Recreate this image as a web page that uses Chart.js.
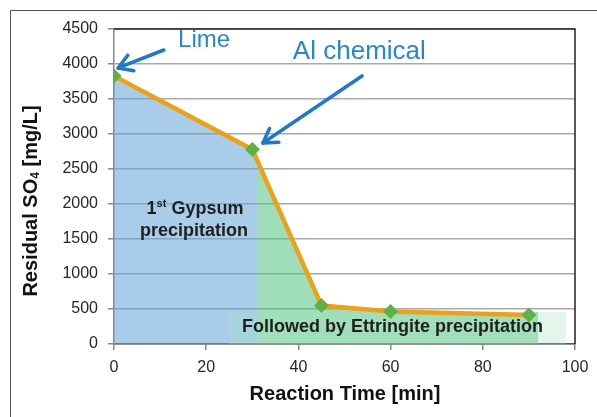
<!DOCTYPE html>
<html>
<head>
<meta charset="utf-8">
<script src="https://cdn.jsdelivr.net/npm/chart.js@4.4.0/dist/chart.umd.min.js"></script>
<style>
  html, body { margin: 0; padding: 0; background: #fff; }
</style>
</head>
<body>
<canvas id="so4Chart" width="597" height="417"></canvas>
<script>
// Datos
const tiempos = [0, 30, 45, 60, 90];            // Reaction Time [min]
const sulfato = [3830, 2780, 550, 465, 415];    // Residual SO4 [mg/L]
const xTicks = [0, 20, 40, 60, 80, 100];
const yTicks = [0, 500, 1000, 1500, 2000, 2500, 3000, 3500, 4000, 4500];

// Límites de las zonas sombreadas (min)
const finYeso = 31;
const inicioCaja = 25;
const finEttringita = 92;
const finCaja = 98;
const altoCaja = 460;   // mg/L

const puntos = tiempos.map((t, i) => ({ x: t, y: sulfato[i] }));
const FUENTE = "'Liberation Sans', Arial, sans-serif";

function clipX(chart, a, b) {
  const { ctx, chartArea, scales: { x } } = chart;
  const x0 = x.getPixelForValue(a), x1 = x.getPixelForValue(b);
  ctx.save();
  ctx.beginPath();
  ctx.rect(x0, chartArea.top, x1 - x0, chartArea.bottom - chartArea.top);
  ctx.clip();
}

function flecha(ctx, x1, y1, x2, y2) {
  const ang = Math.atan2(y2 - y1, x2 - x1);
  const largo = 16;
  ctx.beginPath();
  ctx.moveTo(x1, y1);
  ctx.lineTo(x2, y2);
  ctx.stroke();
  ctx.beginPath();
  ctx.moveTo(x2 - largo * Math.cos(ang - 0.55), y2 - largo * Math.sin(ang - 0.55));
  ctx.lineTo(x2, y2);
  ctx.lineTo(x2 - largo * Math.cos(ang + 0.55), y2 - largo * Math.sin(ang + 0.55));
  ctx.stroke();
}

// Recorta los rellenos azul / verde y dibuja la caja de ettringita
const zonas = {
  id: 'zonas',
  beforeDraw(chart) {
    const ctx = chart.ctx;
    ctx.save();
    ctx.strokeStyle = '#555';
    ctx.lineWidth = 1;
    ctx.beginPath();
    ctx.moveTo(10.5, 417);
    ctx.lineTo(10.5, 10.5);
    ctx.lineTo(597, 10.5);
    ctx.stroke();
    ctx.restore();
  },
  beforeDatasetsDraw(chart) {
    clipX(chart, finYeso, 100);
  },
  afterDatasetDraw(chart, args) {
    const { ctx, scales: { x, y } } = chart;
    if (args.index === 2) {
      ctx.restore();
      clipX(chart, 0, finYeso);
    } else if (args.index === 1) {
      ctx.restore();
      ctx.save();
      const yTop = y.getPixelForValue(altoCaja), yBot = y.getPixelForValue(0);
      const xUlt = x.getPixelForValue(tiempos[tiempos.length - 1]);
      ctx.fillStyle = 'rgba(82,195,128,0.55)';
      ctx.fillRect(xUlt, yTop, x.getPixelForValue(finEttringita) - xUlt, yBot - yTop);
      const xc0 = x.getPixelForValue(inicioCaja);
      ctx.fillStyle = 'rgba(160,225,190,0.3)';
      ctx.fillRect(xc0, yTop, x.getPixelForValue(finCaja) - xc0, yBot - yTop);
      ctx.restore();
    }
  },
  afterDraw(chart) {
    const { ctx, chartArea: a, scales: { x, y } } = chart;
    ctx.save();
    // borde superior y derecho del área
    ctx.strokeStyle = '#222';
    ctx.lineWidth = 1.5;
    ctx.beginPath();
    ctx.moveTo(a.left, a.top);
    ctx.lineTo(a.right, a.top);
    ctx.lineTo(a.right, a.bottom);
    ctx.stroke();

    // flechas azules
    ctx.strokeStyle = '#1f78c8';
    ctx.lineWidth = 3.5;
    ctx.lineCap = 'round';
    ctx.lineJoin = 'round';
    flecha(ctx, x.getPixelForValue(10.8), y.getPixelForValue(4200), x.getPixelForValue(0.9), y.getPixelForValue(3943));
    flecha(ctx, x.getPixelForValue(53.8), y.getPixelForValue(3829), x.getPixelForValue(32.3), y.getPixelForValue(2871));

    ctx.fillStyle = '#2a86cc';
    ctx.textBaseline = 'middle';
    ctx.textAlign = 'left';
    ctx.font = '24px ' + FUENTE;
    ctx.fillText('Lime', x.getPixelForValue(13.9), y.getPixelForValue(4343));
    ctx.font = '26px ' + FUENTE;
    ctx.fillText('Al chemical', x.getPixelForValue(38.8), y.getPixelForValue(4171));

    // textos de las zonas
    ctx.fillStyle = '#1e1e1e';
    ctx.font = 'bold 18px ' + FUENTE;
    const w1 = ctx.measureText('1').width;
    const wRest = ctx.measureText(' Gypsum').width;
    ctx.font = 'bold 11px ' + FUENTE;
    const wSt = ctx.measureText('st').width;
    let cx = 195 - (w1 + wSt + wRest) / 2;
    ctx.font = 'bold 18px ' + FUENTE;
    ctx.fillText('1', cx, 209);
    ctx.font = 'bold 11px ' + FUENTE;
    ctx.fillText('st', cx + w1, 204);
    ctx.font = 'bold 18px ' + FUENTE;
    ctx.fillText(' Gypsum', cx + w1 + wSt, 209);
    ctx.textAlign = 'center';
    ctx.fillText('precipitation', 194, 231);
    ctx.textAlign = 'left';
    ctx.fillText('Followed by Ettringite precipitation', 242, 327);

    // títulos de ejes
    ctx.fillStyle = '#111';
    ctx.font = 'bold 20px ' + FUENTE;
    ctx.textAlign = 'center';
    ctx.fillText('Reaction Time [min]', 345, 394);

    ctx.translate(31, 201);
    ctx.rotate(-Math.PI / 2);
    ctx.font = 'bold 20px ' + FUENTE;
    const p1 = 'Residual SO', p3 = ' [mg/L]';
    const wp1 = ctx.measureText(p1).width, wp3 = ctx.measureText(p3).width;
    ctx.font = 'bold 12px ' + FUENTE;
    const wp2 = ctx.measureText('4').width;
    let sx = -(wp1 + wp2 + wp3) / 2;
    ctx.textAlign = 'left';
    ctx.font = 'bold 20px ' + FUENTE;
    ctx.fillText(p1, sx, 0);
    ctx.font = 'bold 12px ' + FUENTE;
    ctx.fillText('4', sx + wp1, 5);
    ctx.font = 'bold 20px ' + FUENTE;
    ctx.fillText(p3, sx + wp1 + wp2, 0);
    ctx.restore();
  }
};

const ctx = document.getElementById('so4Chart').getContext('2d');
new Chart(ctx, {
  type: 'line',
  data: {
    datasets: [
      {
        label: 'Residual SO4',
        data: puntos,
        borderColor: '#eba118',
        borderWidth: 4.5,
        pointStyle: 'rectRot',
        pointRadius: 7,
        pointBackgroundColor: '#62b045',
        pointBorderColor: '#62b045',
        pointBorderWidth: 1,
        fill: false,
        tension: 0,
      },
      {
        label: 'yeso',
        data: puntos,
        borderColor: 'rgba(0,0,0,0)',
        borderWidth: 0,
        pointRadius: 0,
        backgroundColor: 'rgba(99,164,215,0.55)',
        fill: 'origin',
      },
      {
        label: 'ettringita',
        data: puntos,
        borderColor: 'rgba(0,0,0,0)',
        borderWidth: 0,
        pointRadius: 0,
        backgroundColor: 'rgba(82,195,128,0.55)',
        fill: 'origin',
      },
    ],
  },
  options: {
    responsive: false,
    animation: false,
    devicePixelRatio: 1,
    layout: { padding: { top: 29, right: 22, left: 0, bottom: 0 } },
    plugins: {
      legend: { display: false },
      tooltip: { enabled: false },
    },
    scales: {
      x: {
        type: 'linear',
        min: 0,
        max: 100,
        afterBuildTicks: (s) => { s.ticks = xTicks.map((v) => ({ value: v })); },
        afterFit: (s) => { s.height = 73; },
        ticks: { font: { family: FUENTE, size: 16 }, color: '#262626', padding: 8, callback: (v) => String(v) },
        grid: { drawOnChartArea: false, drawTicks: true, tickLength: 6, color: '#888', lineWidth: 1.5 },
        border: { display: true, color: '#555', width: 1.5 },
      },
      y: {
        min: 0,
        max: 4500,
        afterBuildTicks: (s) => { s.ticks = yTicks.map((v) => ({ value: v })); },
        afterFit: (s) => { s.width = 114; },
        ticks: { font: { family: FUENTE, size: 16 }, color: '#262626', padding: 10, callback: (v) => String(v) },
        grid: { color: '#aaa', lineWidth: 1.5, tickLength: 6, tickColor: '#888' },
        border: { display: true, color: '#888', width: 1.5 },
      },
    },
  },
  plugins: [zonas],
});
</script>
</body>
</html>
